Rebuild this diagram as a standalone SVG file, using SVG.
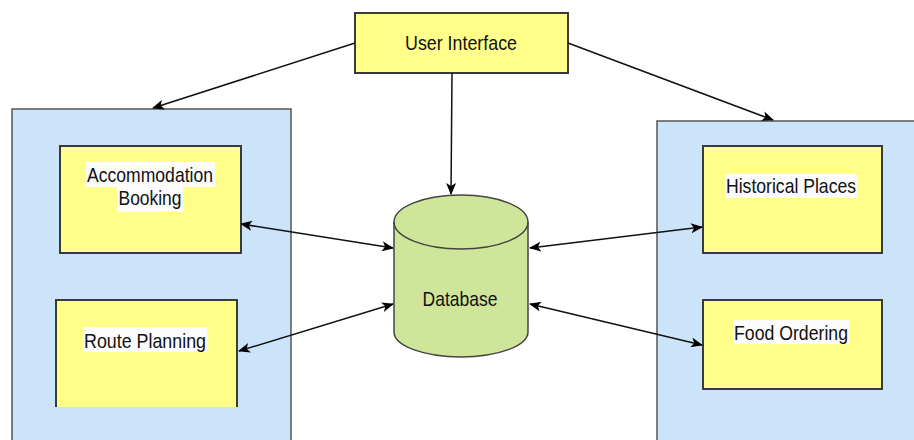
<svg xmlns="http://www.w3.org/2000/svg" width="914" height="440" viewBox="0 0 914 440">
<defs>
<style>
.panel{fill:#cce4fa;stroke:#555;stroke-width:1.5}
.box{fill:#ffff8a;stroke:#3a3a3a;stroke-width:2}
.lbl{font-family:"Liberation Sans",Arial,sans-serif;font-size:21px;fill:#111;text-anchor:middle}
.bg{fill:#fcfcfc}
.conn{stroke:#111;stroke-width:1.5;fill:none}
</style>
<marker id="ah" viewBox="0 0 12 10" refX="11" refY="5" markerWidth="12" markerHeight="10" markerUnits="userSpaceOnUse" orient="auto-start-reverse">
<path d="M0,0 L12,5 L0,10 L3,5 Z" fill="#000"/>
</marker>
</defs>
<rect width="914" height="440" fill="#fff"/>
<g id="left-panel">
<rect class="panel" x="12" y="109" width="279" height="340"/>
</g>
<g id="right-panel">
<rect class="panel" x="657" y="121" width="270" height="330"/>
</g>
<g id="user-interface">
<rect class="box" x="355" y="13" width="213" height="60"/>
<text class="lbl" x="461" y="50" textLength="112" lengthAdjust="spacingAndGlyphs">User Interface</text>
</g>
<g id="accommodation-booking">
<rect class="box" x="60" y="146" width="181" height="107"/>
<rect class="bg" x="85" y="162" width="130" height="25"/>
<rect class="bg" x="117" y="187" width="66" height="25"/>
<text class="lbl" x="150" y="182" textLength="126" lengthAdjust="spacingAndGlyphs">Accommodation</text>
<text class="lbl" x="150" y="205" textLength="63" lengthAdjust="spacingAndGlyphs">Booking</text>
</g>
<g id="route-planning">
<rect x="56" y="300" width="181" height="107" fill="#ffff8a"/>
<polyline points="56,407 56,300 237,300 237,407" fill="none" stroke="#3a3a3a" stroke-width="2"/>
<rect class="bg" x="83" y="327" width="124" height="25"/>
<text class="lbl" x="145" y="348" textLength="122" lengthAdjust="spacingAndGlyphs">Route Planning</text>
</g>
<g id="historical-places">
<rect class="box" x="703" y="146" width="179" height="107"/>
<rect class="bg" x="725" y="174" width="132" height="24"/>
<text class="lbl" x="791" y="193" textLength="130" lengthAdjust="spacingAndGlyphs">Historical Places</text>
</g>
<g id="food-ordering">
<rect class="box" x="703" y="300" width="179" height="89"/>
<rect class="bg" x="733" y="320" width="116" height="24"/>
<text class="lbl" x="791" y="340" textLength="114" lengthAdjust="spacingAndGlyphs">Food Ordering</text>
</g>
<g id="database">
<path d="M394,222 L394,332 A67,25 0 0 0 528,332 L528,222 A67,27 0 0 0 394,222 Z" fill="#cfe59a" stroke="#444" stroke-width="1.5"/>
<path d="M394,222 A67,27 0 0 0 528,222" fill="none" stroke="#444" stroke-width="1.5"/>
<text class="lbl" x="460" y="306" textLength="75" lengthAdjust="spacingAndGlyphs">Database</text>
</g>
<g id="connectors">
<line class="conn" x1="355" y1="43" x2="153" y2="108" marker-end="url(#ah)"/>
<line class="conn" x1="568" y1="43" x2="773" y2="120" marker-end="url(#ah)"/>
<line class="conn" x1="452" y1="73" x2="451" y2="194" marker-end="url(#ah)"/>
<line class="conn" x1="241" y1="224" x2="393" y2="248" marker-start="url(#ah)" marker-end="url(#ah)"/>
<line class="conn" x1="239" y1="351" x2="393" y2="304" marker-start="url(#ah)" marker-end="url(#ah)"/>
<line class="conn" x1="530" y1="248" x2="702" y2="227" marker-start="url(#ah)" marker-end="url(#ah)"/>
<line class="conn" x1="530" y1="304" x2="702" y2="345" marker-start="url(#ah)" marker-end="url(#ah)"/>
</g>
</svg>
